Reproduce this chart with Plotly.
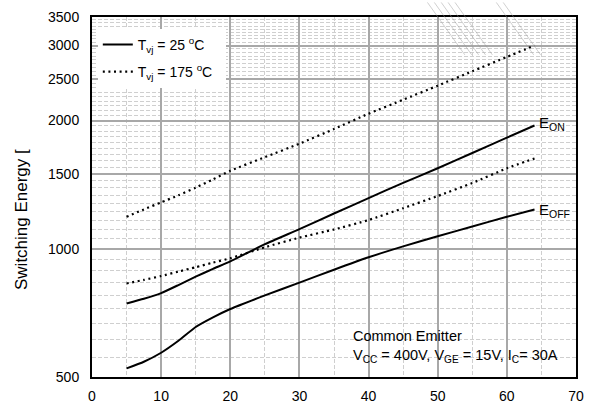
import math
import plotly.graph_objects as go

# Collector current I_C [A]
x_vals = [5, 7.5, 10, 12.5, 15, 17.5, 20, 25, 30, 35, 40, 45, 50, 55, 60, 64]

# Switching energy values
eon_25 = [744, 763, 787, 822, 860, 897, 934, 1025, 1112, 1210, 1315, 1428, 1545, 1678, 1823, 1947]
eoff_25 = [524, 543, 570, 608, 655, 690, 722, 777, 833, 893, 955, 1013, 1070, 1128, 1189, 1236]
eon_175 = [1189, 1237, 1285, 1335, 1392, 1455, 1525, 1640, 1765, 1910, 2075, 2238, 2415, 2610, 2820, 3000]
eoff_175 = [829, 845, 863, 884, 905, 928, 950, 1008, 1062, 1110, 1168, 1245, 1330, 1427, 1545, 1629]

x_ticks = [0, 10, 20, 30, 40, 50, 60, 70]
y_ticks = [500, 1000, 1500, 2000, 2500, 3000, 3500]
y_minor = [500 + 500 * k / 9 for k in range(1, 54) if k % 9 != 0]

FONT = "Arial, 'Liberation Sans', sans-serif"
DOT = "2px,3.6px"
SM = 0.5

fig = go.Figure()
fig.add_trace(go.Scatter(x=x_vals, y=eon_25, mode="lines", line=dict(color="black", width=2, shape="spline", smoothing=SM),
                         name="T<sub>vj</sub> = 25 <sup>o</sup>C", legendgroup="a", showlegend=True))
fig.add_trace(go.Scatter(x=x_vals, y=eoff_25, mode="lines", line=dict(color="black", width=2, shape="spline", smoothing=SM),
                         name="T<sub>vj</sub> = 25 <sup>o</sup>C", legendgroup="a", showlegend=False))
fig.add_trace(go.Scatter(x=x_vals, y=eon_175, mode="lines", line=dict(color="black", width=2.2, dash=DOT, shape="spline", smoothing=SM),
                         name="T<sub>vj</sub> = 175 <sup>o</sup>C  ", legendgroup="b", showlegend=True))
fig.add_trace(go.Scatter(x=x_vals, y=eoff_175, mode="lines", line=dict(color="black", width=2.2, dash=DOT, shape="spline", smoothing=SM),
                         name="T<sub>vj</sub> = 175 <sup>o</sup>C", legendgroup="b", showlegend=False))

# watermark-like diagonal lines at top right
shapes = []
def px2paper(px, py):
    return (px - 92) / 492, (385.7 - py) / 370.7
for x0 in [433, 440, 447, 454, 461, 503, 510]:
    a = px2paper(x0, 0)
    b = px2paper(x0 + 38, 54)
    shapes.append(dict(type="line", xref="paper", yref="paper", x0=a[0], y0=a[1], x1=b[0], y1=b[1],
                       line=dict(color="rgba(150,150,150,0.45)", width=1)))

fig.update_layout(
    width=593, height=413,
    margin=dict(l=92, r=9, t=15, b=27),
    paper_bgcolor="white", plot_bgcolor="white",
    font=dict(family=FONT, size=14, color="black"),
    showlegend=True,
    legend=dict(x=0.012, y=0.967, xanchor="left", yanchor="top", bgcolor="white",
                borderwidth=0, font=dict(size=14), tracegroupgap=6,
                itemwidth=30),
    shapes=shapes,
    annotations=[
        dict(text="Switching Energy [", xref="paper", yref="paper", x=-0.146, y=0.437,
             textangle=-90, showarrow=False, font=dict(size=17), xanchor="center", yanchor="middle"),
        dict(text="E<sub>ON</sub>", x=x_vals[-1], y=math.log10(eon_25[-1]), xref="x", yref="y",
             xanchor="left", yanchor="middle", xshift=2, yshift=2, showarrow=False, font=dict(size=15)),
        dict(text="E<sub>OFF</sub>", x=x_vals[-1], y=math.log10(eoff_25[-1]), xref="x", yref="y",
             xanchor="left", yanchor="middle", xshift=2, yshift=-1, showarrow=False, font=dict(size=15)),
        dict(text="Common Emitter", xref="x", yref="paper", x=37.4, y=0.115, xanchor="left", yanchor="middle",
             showarrow=False, font=dict(size=14.5)),
        dict(text="V<sub>CC</sub> = 400V, V<sub>GE</sub> = 15V, I<sub>C</sub>= 30A", xref="x", yref="paper",
             x=37.4, y=0.058, xanchor="left", yanchor="middle", showarrow=False, font=dict(size=14.5)),
    ],
)

fig.update_xaxes(
    range=[0, 70], tickvals=x_ticks, ticktext=[str(v) for v in x_ticks],
    showgrid=True, gridcolor="#a8a8a8", gridwidth=1.5,
    minor=dict(dtick=5, tick0=0, showgrid=True, gridcolor="#cfcfcf", griddash="4px,2px", gridwidth=1),
    showline=True, linecolor="black", linewidth=2, mirror=True, ticks="", zeroline=False,
    ticklabelstandoff=5, tickfont=dict(size=14),
)
fig.update_yaxes(
    type="log", range=[2.69897, 3.544068], tickvals=y_ticks, ticktext=[str(v) for v in y_ticks],
    showgrid=True, gridcolor="#a8a8a8", gridwidth=1.5,
    minor=dict(tickvals=y_minor, showgrid=True, gridcolor="#cfcfcf", griddash="4px,2px", gridwidth=1),
    showline=True, linecolor="black", linewidth=2, mirror=True, ticks="", zeroline=False,
    ticklabelstandoff=8, tickfont=dict(size=14),
)

fig.write_html("out.html")
